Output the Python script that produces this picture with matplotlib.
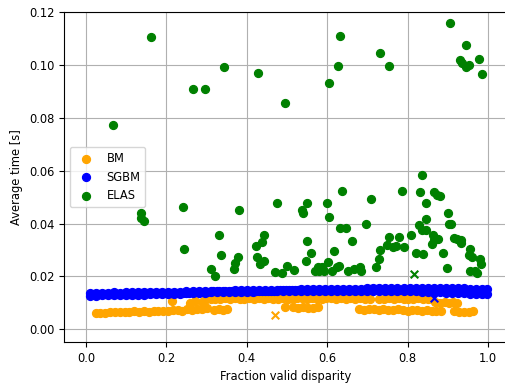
import matplotlib
matplotlib.use("Agg")
import matplotlib.pyplot as plt

# ELAS timings (fraction valid disparity, average time)
elas_x = [0.066, 0.161, 0.136, 0.138, 0.144, 0.241, 0.243, 0.267, 0.296, 0.310,
          0.320, 0.332, 0.336, 0.344, 0.367, 0.371, 0.377, 0.381, 0.423, 0.426,
          0.432, 0.438, 0.443, 0.442, 0.427, 0.471, 0.488, 0.475, 0.501, 0.517,
          0.495, 0.537, 0.539, 0.549, 0.549, 0.548, 0.561, 0.570, 0.576, 0.580,
          0.586, 0.592, 0.603, 0.600, 0.605, 0.616, 0.612, 0.624, 0.630, 0.605,
          0.626, 0.632, 0.631, 0.638, 0.647, 0.653, 0.666, 0.663, 0.681, 0.684,
          0.697, 0.710, 0.721, 0.729, 0.731, 0.732, 0.755, 0.749, 0.755, 0.765,
          0.771, 0.778, 0.785, 0.790, 0.809, 0.820, 0.830, 0.835, 0.828, 0.837,
          0.845, 0.838, 0.845, 0.846, 0.863, 0.866, 0.873, 0.880, 0.865, 0.876,
          0.861, 0.888, 0.898, 0.900, 0.903, 0.908, 0.916, 0.924, 0.933, 0.934,
          0.956, 0.953, 0.961, 0.956, 0.968, 0.981, 0.984, 0.973, 0.906, 0.931,
          0.936, 0.946, 0.946, 0.953, 0.978, 0.985]
elas_y = [0.0773, 0.1104, 0.0441, 0.0420, 0.0410, 0.0464, 0.0305, 0.0908, 0.0908, 0.0229,
          0.0202, 0.0355, 0.0281, 0.0993, 0.0229, 0.0250, 0.0275, 0.0451, 0.0315, 0.0275,
          0.0247, 0.0330, 0.0355, 0.0257, 0.0968, 0.0217, 0.0212, 0.0479, 0.0240, 0.0224,
          0.0857, 0.0451, 0.0439, 0.0479, 0.0335, 0.0260, 0.0290, 0.0222, 0.0237, 0.0222,
          0.0237, 0.0222, 0.0256, 0.0479, 0.0426, 0.0295, 0.0222, 0.0237, 0.0240, 0.0933,
          0.0996, 0.1110, 0.0383, 0.0524, 0.0383, 0.0222, 0.0229, 0.0333, 0.0237, 0.0222,
          0.0398, 0.0494, 0.0237, 0.0265, 0.0300, 0.1044, 0.0996, 0.0318, 0.0348, 0.0310,
          0.0315, 0.0350, 0.0522, 0.0313, 0.0355, 0.0287, 0.0519, 0.0582, 0.0393, 0.0376,
          0.0376, 0.0285, 0.0418, 0.0479, 0.0355, 0.0519, 0.0509, 0.0504, 0.0338, 0.0340,
          0.0323, 0.0290, 0.0232, 0.0439, 0.0398, 0.0398, 0.0345, 0.0343, 0.0338, 0.0325,
          0.0302, 0.0282, 0.0275, 0.0222, 0.0222, 0.0267, 0.0247, 0.0212, 0.1160, 0.1018,
          0.1008, 0.1074, 0.0993, 0.0998, 0.1024, 0.0966]

# SGBM: a tight band -> upper edge, lower edge and middle of the cloud
sgbm_x = [0.010, 0.025, 0.040, 0.055, 0.070, 0.085, 0.100, 0.115, 0.130, 0.145,
          0.160, 0.175, 0.190, 0.205, 0.220, 0.235, 0.250, 0.265, 0.280, 0.295,
          0.310, 0.325, 0.340, 0.355, 0.370, 0.385, 0.400, 0.415, 0.430, 0.445,
          0.460, 0.475, 0.490, 0.505, 0.520, 0.535, 0.550, 0.565, 0.580, 0.595,
          0.610, 0.625, 0.640, 0.655, 0.670, 0.685, 0.700, 0.715, 0.730, 0.745,
          0.760, 0.775, 0.790, 0.805, 0.820, 0.835, 0.850, 0.865, 0.880, 0.895,
          0.910, 0.925, 0.940, 0.955, 0.970, 0.985, 0.998]
sgbm_hi = [0.0139, 0.0138, 0.0139, 0.0139, 0.0140, 0.0139, 0.0140, 0.0140, 0.0141, 0.0140,
           0.0141, 0.0141, 0.0142, 0.0141, 0.0142, 0.0142, 0.0143, 0.0143, 0.0144, 0.0145,
           0.0145, 0.0146, 0.0146, 0.0146, 0.0147, 0.0147, 0.0147, 0.0148, 0.0148, 0.0148,
           0.0149, 0.0149, 0.0150, 0.0150, 0.0150, 0.0151, 0.0151, 0.0152, 0.0152, 0.0152,
           0.0153, 0.0153, 0.0153, 0.0154, 0.0154, 0.0154, 0.0155, 0.0155, 0.0155, 0.0156,
           0.0156, 0.0156, 0.0155, 0.0156, 0.0157, 0.0157, 0.0158, 0.0158, 0.0157, 0.0156,
           0.0156, 0.0155, 0.0155, 0.0154, 0.0154, 0.0153, 0.0152]
sgbm_lo = [0.0127, 0.0127, 0.0128, 0.0128, 0.0129, 0.0129, 0.0130, 0.0130, 0.0131, 0.0131,
           0.0132, 0.0132, 0.0133, 0.0133, 0.0134, 0.0135, 0.0136, 0.0137, 0.0138, 0.0139,
           0.0140, 0.0140, 0.0141, 0.0141, 0.0141, 0.0142, 0.0142, 0.0142, 0.0143, 0.0143,
           0.0143, 0.0144, 0.0144, 0.0144, 0.0145, 0.0145, 0.0145, 0.0146, 0.0146, 0.0146,
           0.0146, 0.0146, 0.0146, 0.0146, 0.0146, 0.0146, 0.0146, 0.0146, 0.0145, 0.0145,
           0.0144, 0.0144, 0.0143, 0.0143, 0.0143, 0.0142, 0.0142, 0.0141, 0.0140, 0.0139,
           0.0138, 0.0137, 0.0136, 0.0135, 0.0134, 0.0134, 0.0133]
sgbm_x2 = [0.017, 0.032, 0.047, 0.062, 0.077, 0.092, 0.107, 0.122, 0.137, 0.152,
           0.167, 0.182, 0.197, 0.212, 0.227, 0.242, 0.257, 0.272, 0.287, 0.302,
           0.317, 0.332, 0.347, 0.362, 0.377, 0.392, 0.407, 0.422, 0.437, 0.452,
           0.467, 0.482, 0.497, 0.512, 0.527, 0.542, 0.557, 0.572, 0.587, 0.602,
           0.617, 0.632, 0.647, 0.662, 0.677, 0.692, 0.707, 0.722, 0.737, 0.752,
           0.767, 0.782, 0.797, 0.812, 0.827, 0.842, 0.857, 0.872, 0.887, 0.902,
           0.917, 0.932, 0.947, 0.962, 0.977, 0.991]
sgbm_mid = [0.0133, 0.0133, 0.0133, 0.0134, 0.0134, 0.0135, 0.0135, 0.0135, 0.0136, 0.0136,
            0.0136, 0.0137, 0.0137, 0.0137, 0.0138, 0.0139, 0.0139, 0.0140, 0.0141, 0.0142,
            0.0143, 0.0143, 0.0144, 0.0144, 0.0144, 0.0145, 0.0145, 0.0145, 0.0146, 0.0146,
            0.0146, 0.0147, 0.0147, 0.0147, 0.0148, 0.0148, 0.0148, 0.0149, 0.0149, 0.0149,
            0.0150, 0.0150, 0.0150, 0.0150, 0.0150, 0.0150, 0.0151, 0.0151, 0.0150, 0.0150,
            0.0150, 0.0150, 0.0149, 0.0149, 0.0150, 0.0150, 0.0150, 0.0150, 0.0149, 0.0148,
            0.0147, 0.0146, 0.0146, 0.0145, 0.0144, 0.0143]

# BM
bm_x = [0.024, 0.036, 0.048, 0.060, 0.072, 0.084, 0.096, 0.108, 0.120, 0.132,
        0.144, 0.156, 0.168, 0.180, 0.192, 0.204, 0.216, 0.228, 0.240, 0.252,
        0.264, 0.276, 0.288, 0.300,
        0.213, 0.258, 0.272, 0.288, 0.296,
        0.318, 0.330, 0.342, 0.352,
        0.310, 0.322, 0.334, 0.346, 0.358, 0.370, 0.382, 0.394, 0.406, 0.418,
        0.430, 0.442, 0.454, 0.466, 0.478, 0.490, 0.502, 0.514, 0.526, 0.538,
        0.550, 0.562, 0.574, 0.586, 0.598, 0.610, 0.622, 0.634, 0.646, 0.658,
        0.670, 0.682, 0.694, 0.706,
        0.730, 0.742, 0.754, 0.766, 0.778, 0.790, 0.802, 0.814, 0.826, 0.838,
        0.850, 0.860,
        0.868, 0.880, 0.892, 0.904, 0.914, 0.924,
        0.496, 0.516, 0.528, 0.540, 0.552, 0.564, 0.576,
        0.680, 0.692, 0.704, 0.716, 0.728, 0.740, 0.752, 0.764, 0.776, 0.788,
        0.800, 0.812, 0.824, 0.836, 0.848, 0.860, 0.872, 0.884,
        0.916, 0.928, 0.940, 0.952, 0.964]
bm_y = [0.0060, 0.0063, 0.0062, 0.0065, 0.0064, 0.0066, 0.0067, 0.0065, 0.0068, 0.0067,
        0.0069, 0.0066, 0.0070, 0.0068, 0.0071, 0.0069, 0.0072, 0.0074, 0.0071, 0.0075,
        0.0073, 0.0076, 0.0078, 0.0080,
        0.0107, 0.0100, 0.0106, 0.0104, 0.0110,
        0.0074, 0.0076, 0.0073, 0.0075,
        0.0113, 0.0116, 0.0114, 0.0117, 0.0115, 0.0118, 0.0114, 0.0116, 0.0119, 0.0115,
        0.0117, 0.0114, 0.0118, 0.0116, 0.0115, 0.0119, 0.0116, 0.0114, 0.0118, 0.0117,
        0.0115, 0.0119, 0.0116, 0.0114, 0.0118, 0.0117, 0.0115, 0.0119, 0.0116, 0.0118,
        0.0115, 0.0117, 0.0114, 0.0116,
        0.0116, 0.0114, 0.0117, 0.0115, 0.0118, 0.0114, 0.0116, 0.0115, 0.0117, 0.0114,
        0.0116, 0.0113,
        0.0103, 0.0100, 0.0104, 0.0101, 0.0103, 0.0100,
        0.0083, 0.0083, 0.0081, 0.0083, 0.0082, 0.0080, 0.0083,
        0.0076, 0.0074, 0.0077, 0.0075, 0.0073, 0.0076, 0.0074, 0.0072, 0.0075, 0.0073,
        0.0071, 0.0074, 0.0072, 0.0070, 0.0073, 0.0071, 0.0069, 0.0070,
        0.0068, 0.0065, 0.0067, 0.0064, 0.0068]

# mean markers (x) per method
mean_x = [0.469, 0.865, 0.817]
mean_y = [0.0054, 0.0117, 0.0209]
colors = ['orange', 'blue', 'green']
labels = ['BM', 'SGBM', 'ELAS']

plt.rcParams['font.size'] = 8.3

fig = plt.figure(figsize=(5.05, 3.83), dpi=100)
ax = fig.add_axes([64 / 505, 41 / 383, 444 / 505, 330 / 383])

ax.scatter(bm_x, bm_y, s=32, color=colors[0], label=labels[0])
ax.scatter(sgbm_x + sgbm_x + sgbm_x2, sgbm_hi + sgbm_lo + sgbm_mid, s=32,
           color=colors[1], label=labels[1])
ax.scatter(elas_x, elas_y, s=32, color=colors[2], label=labels[2])
for i in range(3):
    ax.scatter(mean_x[i], mean_y[i], s=30, marker='x', color=colors[i])

ax.set_xlim(-0.0548, 1.050)
ax.set_ylim(-0.0048, 0.12)
ax.set_xticks([0.0, 0.2, 0.4, 0.6, 0.8, 1.0])
ax.set_yticks([0.0, 0.02, 0.04, 0.06, 0.08, 0.10, 0.12])
ax.grid(True)
ax.set_axisbelow(True)
ax.set_xlabel('Fraction valid disparity')
ax.set_ylabel('Average time [s]')
ax.legend(loc='center left')

fig.savefig('out.png', dpi=100)
